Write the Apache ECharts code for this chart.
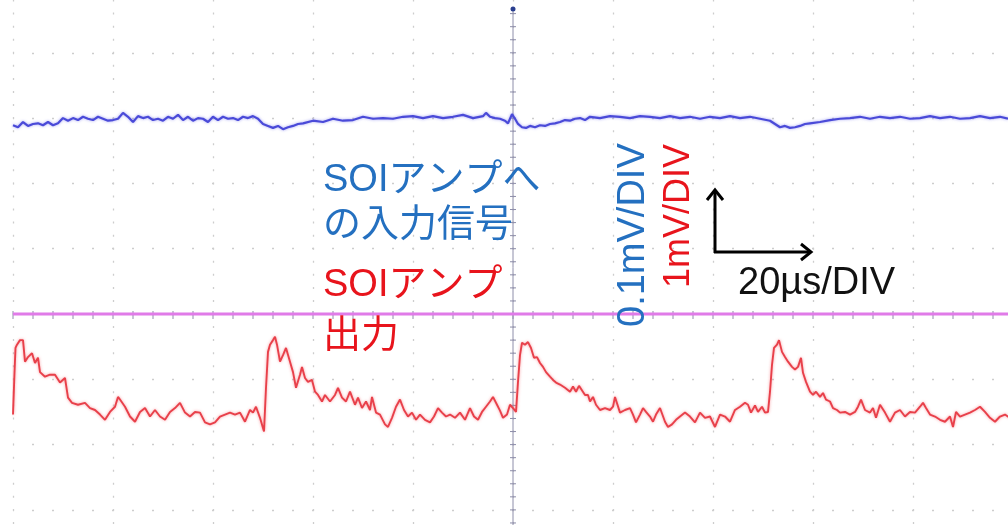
<!DOCTYPE html>
<html>
<head>
<meta charset="utf-8">
<script src="https://cdn.jsdelivr.net/npm/echarts@6/dist/echarts.min.js"></script>
<style>
  html, body { margin: 0; padding: 0; background: #ffffff; }
  #chart { width: 1008px; height: 525px; }
</style>
</head>
<body>
<div id="chart"></div>
<script>
// Time axis in microseconds relative to the trigger (20 us per division)
// Vertical values in screen divisions.

// Input to the SOI amplifier (blue, 0.1 mV/DIV)
const timeBlue = [
  -100, -99, -98, -97, -96, -95, -94, -93, -92, -91, -90, -89, -88, -87, -86, -85, -84, -83, -82, -81,
  -80, -79, -78, -77, -76, -75, -74, -73, -72, -71, -70, -69, -68, -67, -66, -65, -64, -63, -62, -61,
  -60, -59, -58, -57, -56, -55, -54, -53, -52, -51, -50, -49, -48, -47, -46, -45, -44, -43, -42, -40,
  -38, -36, -34, -32, -30, -28, -26, -24, -22, -20, -18, -16, -14, -12, -10, -8, -6, -5.4, -4.6, -3.6,
  -2.6, -1.6, -1, -0.2, 0.4, 1, 1.8, 2.6, 3.4, 4.4, 5.4, 6.4, 7.4, 8.4, 9.4, 10.4, 11.4, 12.4, 13.4, 14.4,
  15.4, 17.4, 19.4, 21.4, 23.4, 25.4, 27.4, 29.4, 31.4, 33.4, 35.4, 37.4, 39.4, 41.4, 43.4, 45.4, 47.4, 49.4, 51.4, 52.4,
  53.4, 54.4, 55.4, 56.4, 57.4, 58.4, 59.4, 61.4, 63.4, 65.4, 67.4, 69.4, 71.4, 73.4, 75.4, 77.4, 79.4, 81.4, 83.4, 85.4,
  87.4, 89.4, 91.4, 93.4, 95.4, 97.4, 99
];
const blueDiv = [
  2.89, 2.86, 2.94, 2.88, 2.91, 2.92, 2.89, 2.94, 2.89, 2.92, 3.00, 2.96, 3.00, 2.97, 3.02, 2.99, 2.97, 3.02, 2.99, 2.96,
  2.97, 2.99, 3.08, 3.02, 2.94, 3.03, 3.00, 3.02, 2.97, 2.99, 2.96, 3.02, 2.99, 3.05, 2.97, 3.02, 2.96, 3.00, 2.99, 2.94,
  3.02, 2.97, 3.02, 2.99, 3.00, 2.97, 3.02, 3.00, 3.03, 2.99, 2.91, 2.88, 2.85, 2.88, 2.83, 2.86, 2.88, 2.91, 2.92, 2.96,
  2.94, 2.99, 2.96, 2.97, 3.02, 2.99, 3.00, 2.99, 3.02, 3.03, 3.00, 3.03, 3.00, 3.02, 3.05, 3.00, 3.03, 3.08, 3.02, 3.00,
  2.99, 2.96, 2.92, 3.06, 2.99, 2.91, 2.86, 2.85, 2.88, 2.86, 2.89, 2.88, 2.91, 2.92, 2.94, 2.97, 2.96, 2.99, 3.00, 2.97,
  3.02, 3.00, 3.03, 3.02, 3.00, 3.03, 3.02, 3.00, 3.03, 3.00, 3.02, 2.99, 3.02, 3.00, 3.03, 3.00, 3.02, 2.99, 2.96, 2.91,
  2.86, 2.88, 2.85, 2.86, 2.88, 2.91, 2.92, 2.94, 2.97, 2.99, 3.00, 3.02, 2.99, 3.02, 3.00, 3.02, 2.99, 3.00, 3.03, 3.00,
  3.02, 2.99, 3.00, 3.03, 3.00, 3.02, 2.99
];

// SOI amplifier output (red, 1 mV/DIV)
const timeRed = [
  -100, -99.7, -99.5, -99.2, -98.6, -98, -97.6, -97, -96.2, -95.6, -95, -94.6, -93.6, -92.6, -91.6, -90.6, -89.6, -89, -88.2, -87,
  -85.6, -84.6, -83.6, -82.6, -81.6, -80.6, -79.6, -79, -78.6, -77.6, -76.6, -75.6, -74.6, -73.6, -72.6, -71.6, -70.6, -69.6, -68.6, -67.6,
  -66.6, -65.6, -64.6, -63.6, -62.6, -61.6, -60.6, -59.6, -58.6, -57.6, -56.6, -55.6, -54.6, -53.6, -52.6, -52, -51.4, -50.6, -49.8, -49.4,
  -49, -48.6, -48, -47.6, -47.2, -46.6, -46, -45.4, -44.6, -44, -43.4, -42.6, -42.2, -41.6, -41, -40.2, -39.6, -39, -38.2, -37.6,
  -36.6, -35.6, -35, -34.2, -33.4, -32.6, -31.6, -31, -30.2, -29.4, -28.6, -28.2, -27.4, -26.6, -25.6, -25, -24.2, -23.4, -22.6, -21.8,
  -21, -20.2, -19.4, -18.6, -17.6, -16.6, -15.8, -15, -14.2, -13.4, -12.6, -11.6, -10.6, -9.6, -8.6, -7.8, -7, -6.2, -5.4, -4.6,
  -4, -3.2, -2.6, -2, -1.2, -0.6, 0, 0.6, 1, 1.4, 1.8, 2.4, 3, 3.6, 4.2, 4.8, 5.4, 6, 6.6, 7.4,
  8, 8.6, 9.4, 10.4, 11.4, 12, 12.6, 13.2, 14.4, 15, 15.4, 16, 16.6, 17.4, 18.4, 19.4, 20, 20.4, 21.4, 22.4,
  23.4, 24, 24.6, 25.4, 26, 26.6, 27.4, 28, 28.6, 29.4, 30.4, 31, 31.8, 32.6, 33.4, 34.4, 35.4, 36.4, 37.4, 38.4,
  39.4, 40.4, 41.4, 42.4, 43.4, 44.4, 45.4, 46.4, 47, 47.6, 48.4, 49, 49.8, 50.4, 51, 51.4, 51.8, 52.2, 52.8, 53.2,
  53.8, 54.4, 55, 55.8, 56.4, 57, 57.6, 58, 58.6, 59.4, 60, 60.6, 61.4, 62, 62.6, 63.4, 64, 64.8, 65.4, 66.4,
  67.4, 68.4, 69, 69.6, 70.4, 71.4, 72, 72.6, 73.4, 74.4, 75.4, 76.4, 77.4, 78.4, 79.4, 80.4, 81.4, 82, 82.6, 83.4,
  84.4, 85.4, 86.4, 87.4, 88, 88.6, 89.4, 90.4, 91.4, 92.4, 93.4, 94.4, 95.4, 96.4, 97.4, 98.4, 99.4
];
const redDiv = [
  -1.54, -0.90, -0.52, -0.47, -0.40, -0.40, -0.73, -0.66, -0.60, -0.75, -0.67, -0.89, -0.96, -0.93, -0.93, -1.05, -0.98, -1.28, -1.36, -1.39,
  -1.36, -1.44, -1.47, -1.54, -1.62, -1.50, -1.42, -1.27, -1.31, -1.42, -1.57, -1.65, -1.50, -1.44, -1.57, -1.47, -1.57, -1.62, -1.50, -1.44,
  -1.36, -1.51, -1.57, -1.50, -1.51, -1.66, -1.69, -1.66, -1.57, -1.54, -1.51, -1.54, -1.51, -1.65, -1.47, -1.51, -1.42, -1.59, -1.80, -1.13,
  -0.58, -0.47, -0.40, -0.35, -0.47, -0.73, -0.63, -0.52, -0.73, -0.89, -1.13, -0.93, -0.81, -0.98, -1.04, -1.01, -1.19, -1.24, -1.34, -1.24,
  -1.34, -1.24, -1.13, -1.28, -1.34, -1.19, -1.39, -1.28, -1.44, -1.34, -1.47, -1.27, -1.51, -1.54, -1.69, -1.73, -1.59, -1.42, -1.31, -1.47,
  -1.57, -1.51, -1.62, -1.54, -1.62, -1.66, -1.57, -1.44, -1.51, -1.57, -1.54, -1.59, -1.51, -1.62, -1.44, -1.57, -1.62, -1.50, -1.42, -1.34,
  -1.27, -1.39, -1.48, -1.59, -1.54, -1.39, -1.44, -1.50, -1.04, -0.63, -0.44, -0.47, -0.43, -0.52, -0.67, -0.66, -0.75, -0.81, -0.89, -0.96,
  -1.01, -1.05, -1.08, -1.13, -1.19, -1.11, -1.19, -1.10, -1.24, -1.24, -1.34, -1.27, -1.39, -1.47, -1.44, -1.47, -1.42, -1.27, -1.51, -1.47,
  -1.44, -1.54, -1.66, -1.54, -1.44, -1.50, -1.57, -1.65, -1.54, -1.44, -1.65, -1.73, -1.69, -1.62, -1.57, -1.51, -1.57, -1.66, -1.51, -1.59,
  -1.57, -1.73, -1.54, -1.57, -1.65, -1.47, -1.42, -1.36, -1.39, -1.51, -1.40, -1.50, -1.42, -1.51, -1.50, -1.19, -0.78, -0.52, -0.47, -0.40,
  -0.58, -0.66, -0.73, -0.81, -0.85, -0.81, -0.67, -0.90, -1.04, -1.19, -1.24, -1.19, -1.27, -1.21, -1.31, -1.34, -1.44, -1.47, -1.51, -1.50,
  -1.54, -1.50, -1.42, -1.31, -1.47, -1.51, -1.44, -1.59, -1.39, -1.51, -1.65, -1.51, -1.47, -1.57, -1.50, -1.51, -1.42, -1.36, -1.44, -1.54,
  -1.57, -1.62, -1.65, -1.57, -1.73, -1.50, -1.57, -1.54, -1.51, -1.47, -1.42, -1.50, -1.59, -1.65, -1.57, -1.54, -1.59
];

// Flat reference trace at the centre line
const timeRef = [-100, 100];
const refDiv = [0, 0];

const zip = (xs, ys) => xs.map((x, i) => [x, ys[i]]);

const chart = echarts.init(document.getElementById('chart'), null, { renderer: 'canvas' });

const DIV_PX = 65.3;
const FONT = '"Liberation Sans", "Noto Sans CJK JP", sans-serif';
const BLUE_TXT = '#2470c0';
const RED_TXT = '#e8141c';

// centre crosshair with minor ticks, drawn in data coordinates
function renderCrosshair(params, api) {
  const children = [];
  const stroke = { stroke: '#8e8eaa', lineWidth: 1 };
  const top = api.coord([0, 4.67]);
  const bottom = api.coord([0, -5]);
  const left = api.coord([-100, 0]);
  const right = api.coord([100, 0]);
  children.push({ type: 'line', shape: { x1: top[0], y1: top[1], x2: bottom[0], y2: bottom[1] }, style: stroke });
  children.push({ type: 'line', shape: { x1: left[0], y1: left[1], x2: right[0], y2: right[1] }, style: stroke });
  for (let k = -25; k <= 23; k++) {
    const p = api.coord([0, k * 0.2]);
    children.push({ type: 'line', shape: { x1: p[0] - 3, y1: p[1], x2: p[0] + 3, y2: p[1] }, style: stroke });
  }
  for (let k = -25; k <= 25; k++) {
    const p = api.coord([k * 4, 0]);
    children.push({ type: 'line', shape: { x1: p[0], y1: p[1] - 3, x2: p[0], y2: p[1] + 5 }, style: stroke });
  }
  // trigger position marker
  children.push({ type: 'circle', shape: { cx: top[0], cy: top[1], r: 2.5 }, style: { fill: '#2a3f8f' } });
  return { type: 'group', children };
}

const option = {
  backgroundColor: '#ffffff',
  animation: false,
  grid: {
    left: 13, width: 1000, top: 314 - 5 * DIV_PX, height: 10 * DIV_PX,
    outerBoundsMode: 'none', containLabel: false
  },
  xAxis: {
    type: 'value', min: -100, max: 100, interval: 20,
    axisLine: { show: false }, axisTick: { show: false }, axisLabel: { show: false },
    splitLine: { show: true, lineStyle: { color: '#cdcdcd', width: 1.3, type: [2, DIV_PX / 5 - 2], dashOffset: 1 } }
  },
  yAxis: {
    type: 'value', min: -5, max: 5, interval: 1,
    axisLine: { show: false }, axisTick: { show: false }, axisLabel: { show: false },
    splitLine: { show: true, lineStyle: { color: '#cdcdcd', width: 1.3, type: [2, 18], dashOffset: 1 } }
  },
  series: [
    {
      type: 'custom', renderItem: renderCrosshair, data: [[0, 0]], silent: true, z: 1, clip: false
    },
    {
      name: 'ref', type: 'line', data: zip(timeRef, refDiv), showSymbol: false, silent: true, z: 2,
      lineStyle: { color: '#e07be8', width: 3 }
    },
    {
      name: 'input', type: 'line', data: zip(timeBlue, blueDiv), showSymbol: false, silent: true, z: 3,
      lineStyle: { color: '#4a4ad8', width: 2.2, shadowColor: 'rgba(100,100,235,0.6)', shadowBlur: 3 }
    },
    {
      name: 'output', type: 'line', data: zip(timeRed, redDiv), showSymbol: false, silent: true, z: 3,
      lineStyle: { color: '#e8404a', width: 1.9, shadowColor: 'rgba(245,90,100,0.6)', shadowBlur: 3 }
    }
  ],
  graphic: [
    { type: 'text', z: 10, style: { text: 'SOIアンプへ', x: 323, y: 181, fontSize: 38, fontFamily: FONT, fill: BLUE_TXT, textAlign: 'left', textVerticalAlign: 'middle' } },
    { type: 'text', z: 10, style: { text: 'の入力信号', x: 323, y: 226, fontSize: 38, fontFamily: FONT, fill: BLUE_TXT, textAlign: 'left', textVerticalAlign: 'middle' } },
    { type: 'text', z: 10, style: { text: 'SOIアンプ', x: 323, y: 286, fontSize: 38, fontFamily: FONT, fill: RED_TXT, textAlign: 'left', textVerticalAlign: 'middle' } },
    { type: 'text', z: 10, style: { text: '出力', x: 323, y: 337, fontSize: 38, fontFamily: FONT, fill: RED_TXT, textAlign: 'left', textVerticalAlign: 'middle' } },
    { type: 'text', z: 10, x: 634, y: 327, rotation: Math.PI / 2, style: { text: '0.1mV/DIV', x: 0, y: 0, fontSize: 38, fontFamily: FONT, fill: BLUE_TXT, textAlign: 'left', textVerticalAlign: 'middle' } },
    { type: 'text', z: 10, x: 679, y: 288, rotation: Math.PI / 2, style: { text: '1mV/DIV', x: 0, y: 0, fontSize: 36, fontFamily: FONT, fill: RED_TXT, textAlign: 'left', textVerticalAlign: 'middle' } },
    { type: 'polyline', z: 10, shape: { points: [[715, 253], [715, 190]] }, style: { stroke: '#000', lineWidth: 3, fill: null } },
    { type: 'polyline', z: 10, shape: { points: [[707, 200], [715, 190], [723, 200]] }, style: { stroke: '#000', lineWidth: 3, fill: null } },
    { type: 'polyline', z: 10, shape: { points: [[714, 252], [811, 252]] }, style: { stroke: '#000', lineWidth: 3, fill: null } },
    { type: 'polyline', z: 10, shape: { points: [[801, 244], [811, 252], [801, 260]] }, style: { stroke: '#000', lineWidth: 3, fill: null } },
    { type: 'text', z: 10, style: { text: '20µs/DIV', x: 738, y: 284, fontSize: 38, fontFamily: FONT, fill: '#111', textAlign: 'left', textVerticalAlign: 'middle' } }
  ]
};

chart.setOption(option);
</script>
</body>
</html>
